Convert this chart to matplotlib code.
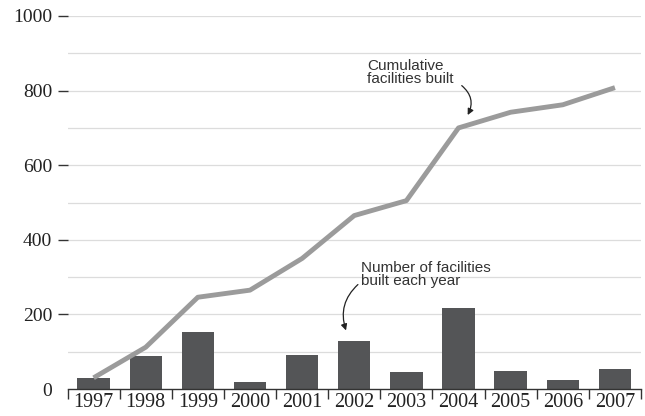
import matplotlib.pyplot as plt
import numpy as np

# data
years = ['1997', '1998', '1999', '2000', '2001', '2002', '2003', '2004', '2005', '2006', '2007']
built_each_year = [30, 88, 152, 20, 92, 130, 45, 217, 47, 23, 53]
cumulative = [30, 112, 246, 265, 350, 465, 505, 700, 742, 762, 808]

serif = ['Liberation Serif', 'DejaVu Serif']
sans = ['Liberation Sans', 'DejaVu Sans']

fig = plt.figure(figsize=(6.45, 4.16), dpi=100)
ax = fig.add_axes([67.5 / 645, 1 - 389 / 416, (641 - 67.5) / 645, (389 - 16) / 416])

x = np.arange(len(years))
ax.bar(x, built_each_year, width=0.62, color='#545557', zorder=2)
ax.plot(x, cumulative, color='#9b9b9b', lw=3.5, solid_capstyle='butt', zorder=3)

ax.set_xlim(-0.5, len(years) - 0.5)
ax.set_ylim(0, 1000)

# gridlines every 100
for v in range(100, 1001, 100):
    ax.axhline(v, color='#dcdcdc', lw=0.9, zorder=0)

ax.set_yticks(range(0, 1001, 200))
ax.set_yticklabels([str(v) for v in range(0, 1001, 200)], fontsize=14, family=serif, color='#222222')
ax.tick_params(axis='y', length=7, width=1.0, color='#333333', pad=4)
ax.yaxis.get_major_ticks()[0].tick1line.set_visible(False)

ax.set_xticks(x)
ax.set_xticklabels(years, fontsize=14.5, family=serif, color='#222222')
ax.set_xticks(np.arange(-0.5, len(years), 1.0), minor=True)
ax.tick_params(axis='x', which='major', length=0, pad=3)
ax.tick_params(axis='x', which='minor', length=7, width=1.0, color='#333333')

for s in ['top', 'right', 'left']:
    ax.spines[s].set_visible(False)
ax.spines['bottom'].set_color('#333333')
ax.spines['bottom'].set_linewidth(1.0)
ax.spines['bottom'].set_zorder(4)

# annotations
ax.text(5.25, 884, 'Cumulative\nfacilities built', fontsize=11, family=sans,
        color='#333333', linespacing=0.92, va='top', ha='left')
ax.annotate('', xy=(7.15, 728), xytext=(7.02, 818),
            arrowprops=dict(arrowstyle='-|>', color='#222222', lw=0.9,
                            mutation_scale=9, connectionstyle='arc3,rad=-0.45'))

ax.text(5.13, 344, 'Number of facilities\nbuilt each year', fontsize=11, family=sans,
        color='#333333', linespacing=0.92, va='top', ha='left')
ax.annotate('', xy=(4.86, 150), xytext=(5.11, 285),
            arrowprops=dict(arrowstyle='-|>', color='#222222', lw=0.9,
                            mutation_scale=9, connectionstyle='arc3,rad=0.35'))

plt.savefig('out.png', dpi=100)
